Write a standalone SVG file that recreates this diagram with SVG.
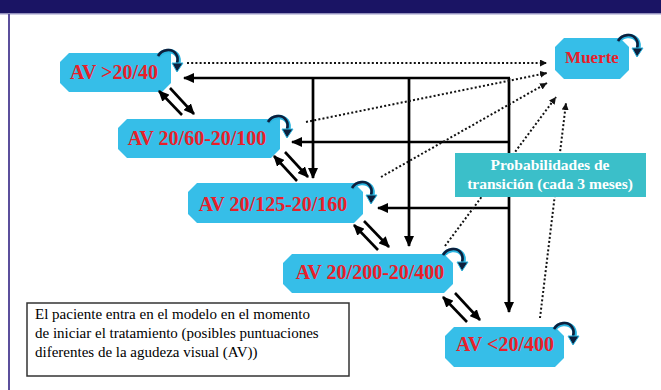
<svg xmlns="http://www.w3.org/2000/svg" xmlns:xlink="http://www.w3.org/1999/xlink" width="661" height="390" viewBox="0 0 661 390">
<style>
.node{fill:#36bee8}
.nt{font-family:"Liberation Serif","Times New Roman",serif;font-weight:bold;font-size:20px;fill:#e8202a;text-anchor:middle}
.solid{fill:none;stroke:#000;stroke-width:2.7}
.dot{fill:none;stroke:#111;stroke-width:2;stroke-dasharray:2 2.2}
.dbl{fill:none;stroke:#000;stroke-width:2.6}
.note{font-family:"Liberation Serif","Times New Roman",serif;font-size:15px;fill:#000}
.prob{font-family:"Liberation Serif","Times New Roman",serif;font-weight:bold;font-size:15.5px;fill:#fff;text-anchor:middle}
</style>
<defs>
<marker id="ah" markerUnits="userSpaceOnUse" markerWidth="12" markerHeight="10" refX="10" refY="5" orient="auto">
<path d="M0,0 L11,5 L0,10 z" fill="#000"/>
</marker>
<marker id="ahs" markerUnits="userSpaceOnUse" markerWidth="8" markerHeight="8" refX="7" refY="3.5" orient="auto">
<path d="M0,0 L7,3.5 L0,7 z" fill="#111"/>
</marker>
<g id="loop">
<path d="M-11,3 C-7,-4 3,-5 8,1 C10,4 10,7 9,10" fill="none" stroke="#2bb5e0" stroke-width="4.5"/>
<path d="M-11,2 C-7,-5 3,-6 7,0 C9,3 9,6 8,9" fill="none" stroke="#0d1f3c" stroke-width="2.6"/>
<polygon points="3,9 14,9 8,18" fill="#0d1f3c" stroke="#2bb5e0" stroke-width="1"/>
</g>
</defs>
<rect width="661" height="390" fill="#fff"/>
<rect x="0" y="0" width="661" height="13.5" fill="#1a1464"/>
<line x1="0" y1="14" x2="661" y2="14" stroke="#9a98c8" stroke-width="1"/>
<line x1="9" y1="14" x2="9" y2="390" stroke="#5b4f9c" stroke-width="2"/>

<g id="n-av2040">
<polygon class="node" points="69,53 171,53 171,83 162,92 69,92 60,83 60,62"/>
<text class="nt" x="114" y="79">AV &gt;20/40</text>
<use xlink:href="#loop" transform="translate(169,54)"/>
</g>
<g id="n-av20602100">
<polygon class="node" points="127,119 280,119 280,149 271,158 127,158 118,149 118,128"/>
<text class="nt" x="197" y="145">AV 20/60-20/100</text>
<use xlink:href="#loop" transform="translate(279,120)"/>
</g>
<g id="n-av20125">
<polygon class="node" points="197,183 354,183 363,192 363,214 354,223 197,223 188,214 188,192"/>
<text class="nt" x="273" y="211">AV 20/125-20/160</text>
<use xlink:href="#loop" transform="translate(363,186)"/>
</g>
<g id="n-av20200">
<polygon class="node" points="292,254 444,254 453,263 453,284 444,293 292,293 283,284 283,263"/>
<text class="nt" x="370" y="279">AV 20/200-20/400</text>
<use xlink:href="#loop" transform="translate(454,253)"/>
</g>
<g id="n-av20400">
<polygon class="node" points="454,327 555,327 564,336 564,358 555,367 454,367 445,358 445,336"/>
<text class="nt" x="505" y="351">AV &lt;20/400</text>
<use xlink:href="#loop" transform="translate(565,327)"/>
</g>
<g id="n-muerte">
<polygon class="node" points="564,38 620,38 629,47 629,70 620,79 564,79 555,70 555,47"/>
<text class="nt" x="592" y="63" style="font-size:17px">Muerte</text>
<use xlink:href="#loop" transform="translate(629,39)"/>
</g>

<g id="connectors">
<path class="solid" d="M510,78 H184" marker-end="url(#ah)"/>
<path class="solid" d="M509,78 V312" marker-end="url(#ah)"/>
<path class="solid" d="M313,78 V178" marker-end="url(#ah)"/>
<path class="solid" d="M409,78 V246" marker-end="url(#ah)"/>
<path class="solid" d="M509,142 H292" marker-end="url(#ah)"/>
<path class="solid" d="M509,208 H378" marker-end="url(#ah)"/>

<path class="dot" d="M187,63 H547" marker-end="url(#ahs)"/>
<path class="dot" d="M306,122 L547,73" marker-end="url(#ahs)"/>
<path class="dot" d="M381,177 L547,83" marker-end="url(#ahs)"/>
<path class="dot" d="M445,246 L556,97" marker-end="url(#ahs)"/>
<path class="dot" d="M540,318 L566,103" marker-end="url(#ahs)"/>

<path class="dbl" d="M182,115 L159,91" marker-end="url(#ah)"/>
<path class="dbl" d="M170,88 L194,114" marker-end="url(#ah)"/>
<path class="dbl" d="M297,181 L274,156" marker-end="url(#ah)"/>
<path class="dbl" d="M285,152 L308,177" marker-end="url(#ah)"/>
<path class="dbl" d="M378,250 L354,225" marker-end="url(#ah)"/>
<path class="dbl" d="M364,221 L389,247" marker-end="url(#ah)"/>
<path class="dbl" d="M467,322 L443,297" marker-end="url(#ah)"/>
<path class="dbl" d="M455,293 L480,320" marker-end="url(#ah)"/>
</g>

<g id="prob">
<rect x="455" y="153" width="191" height="44" fill="#3bbfc9"/>
<text class="prob" x="550" y="170">Probabilidades de</text>
<text class="prob" x="550" y="189">transición (cada 3 meses)</text>
</g>

<g id="note">
<rect x="27" y="303" width="322" height="73" fill="#fff" stroke="#333" stroke-width="1.5"/>
<text class="note" x="35" y="319">El paciente entra en el modelo en el momento</text>
<text class="note" x="35" y="338">de iniciar el tratamiento (posibles puntuaciones</text>
<text class="note" x="35" y="357">diferentes de la agudeza visual (AV))</text>
</g>
</svg>
